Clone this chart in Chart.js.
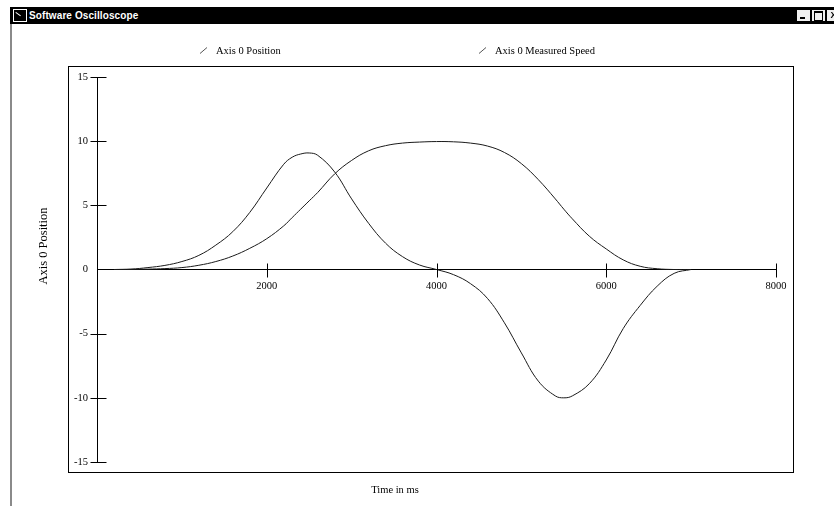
<!DOCTYPE html>
<html>
<head>
<meta charset="utf-8">
<script src="https://cdn.jsdelivr.net/npm/chart.js@4/dist/chart.umd.min.js"></script>
<style>
html,body{margin:0;padding:0;background:#fff;width:834px;height:506px;overflow:hidden;}
#chartBox{position:absolute;left:0;top:0;width:834px;height:506px;}
#titlebar{position:absolute;left:10px;top:7px;width:824px;height:17px;background:#000;z-index:2;}
#icon{position:absolute;left:3px;top:2px;width:12px;height:11px;border:1px solid #fff;background:#000;}
#icon:after{content:"";position:absolute;left:2px;top:2px;width:6px;height:1px;background:#fff;transform:rotate(35deg);transform-origin:0 0;}
#titletext{position:absolute;left:19px;top:0px;color:#fff;font:bold 10px "Liberation Sans",Arial,sans-serif;line-height:17px;letter-spacing:0.1px;}
.btn{position:absolute;top:3px;width:13px;height:11px;background:#f0f0f0;color:#000;font:bold 9px "Liberation Sans",Arial,sans-serif;line-height:11px;text-align:center;overflow:hidden;}
#leftBorder{position:absolute;left:10px;top:24px;width:2px;height:482px;background:#8a8a8a;z-index:2;}
</style>
</head>
<body>
<div id="chartBox"><canvas id="c"></canvas></div>
<div id="titlebar">
  <div id="icon"></div>
  <div id="titletext">Software Oscilloscope</div>
  <div class="btn" style="left:787px;"><div style="position:absolute;left:3px;top:7px;width:5px;height:2px;background:#000;"></div></div>
  <div class="btn" style="left:802px;"><div style="position:absolute;left:2px;top:1px;width:7px;height:7px;border:1px solid #000;border-top-width:2px;"></div></div>
  <div class="btn" style="left:817px;">X</div>
</div>
<div id="leftBorder"></div>
<script>
// ---- data ----
const seriesNames = ['Axis 0 Position', 'Axis 0 Measured Speed'];
const timeMs = [200,400,600,800,1000,1200,1400,1600,1800,2000,2200,2300,2400,2500,2600,2800,3000,3200,3400,3600,3800,4000,4200,4400,4600,4800,5000,5200,5400,5500,5600,5800,6000,6200,6400,6600,6800,7000];
const position = [0,0.01,0.03,0.07,0.15,0.33,0.62,1.05,1.65,2.4,3.4,4.05,4.7,5.35,6.0,7.45,8.5,9.25,9.65,9.85,9.93,9.97,9.95,9.85,9.62,9.12,8.25,7.0,5.5,4.7,3.95,2.6,1.6,0.75,0.25,0.06,0,0];
const speed = [0,0.03,0.15,0.32,0.62,1.1,1.9,2.95,4.45,6.35,8.2,8.75,9.0,9.08,8.9,7.6,5.5,3.6,2.05,1.0,0.35,0,-0.4,-1.1,-2.25,-4.15,-6.5,-8.7,-9.85,-10.0,-9.85,-8.9,-7.05,-4.6,-2.8,-1.3,-0.3,0];
const xTicks = [0,2000,4000,6000,8000];
const yTicks = [-15,-10,-5,0,5,10,15];
const xTitle = 'Time in ms';
const yTitle = 'Axis 0 Position';

const FONT = '"Liberation Serif","Times New Roman",serif';

const decor = {
  id: 'decor',
  afterDraw(chart) {
    const {ctx, chartArea: a, scales: {x, y}} = chart;
    ctx.save();
    ctx.strokeStyle = '#000';
    ctx.lineWidth = 1;
    // outer plot frame
    ctx.strokeRect(Math.round(a.left - 29) + 0.5, Math.round(a.top - 11) + 0.5,
                   Math.round(a.right - a.left + 46), Math.round(a.bottom - a.top + 21));
    const x0 = Math.round(x.getPixelForValue(0)) + 0.5;
    const y0 = Math.round(y.getPixelForValue(0)) + 0.5;
    ctx.beginPath();
    yTicks.forEach(v => {
      if (v === 0) return;
      const py = Math.round(y.getPixelForValue(v)) + 0.5;
      ctx.moveTo(x0 - 7, py); ctx.lineTo(x0 + 9, py);
    });
    xTicks.forEach(v => {
      if (v === 0) return;
      const px = Math.round(x.getPixelForValue(v)) + 0.5;
      ctx.moveTo(px, y0 - 7); ctx.lineTo(px, y0 + 7);
    });
    ctx.stroke();

    // legend
    ctx.fillStyle = '#000';
    ctx.font = '10.5px ' + FONT;
    ctx.textBaseline = 'alphabetic';
    ctx.textAlign = 'left';
    const legendX = [200, 479];
    chart.data.datasets.forEach((ds, i) => {
      const lx = legendX[i];
      ctx.strokeStyle = '#555';
      ctx.beginPath();
      ctx.moveTo(lx, 53.5); ctx.lineTo(lx + 7, 47.5);
      ctx.stroke();
      ctx.fillText(ds.label, lx + 16, 53.5);
    });

    // axis titles
    ctx.font = '10.5px ' + FONT;
    ctx.textAlign = 'center';
    ctx.fillText(xTitle, 395, 492.5);
    ctx.save();
    ctx.translate(47, 246);
    ctx.rotate(-Math.PI / 2);
    ctx.font = '12.5px ' + FONT;
    ctx.fillText(yTitle, 0, 0);
    ctx.restore();
    ctx.restore();
  }
};

new Chart(document.getElementById('c'), {
  type: 'line',
  data: {
    datasets: [
      { label: seriesNames[0], data: timeMs.map((t, i) => ({x: t, y: position[i]})) },
      { label: seriesNames[1], data: timeMs.map((t, i) => ({x: t, y: speed[i]})) }
    ].map(d => Object.assign(d, {
      borderColor: '#1a1a1a', borderWidth: 1, pointRadius: 0, fill: false,
      tension: 0.4
    }))
  },
  options: {
    responsive: true,
    maintainAspectRatio: false,
    animation: false,
    events: [],
    layout: { padding: { left: 0, right: 58, top: 77, bottom: 44 } },
    plugins: { legend: { display: false }, tooltip: { enabled: false } },
    scales: {
      x: {
        type: 'linear',
        position: { y: 0 },
        min: xTicks[0], max: xTicks[xTicks.length - 1],
        afterBuildTicks: s => { s.ticks = xTicks.map(v => ({value: v})); },
        grid: { display: false, drawTicks: false },
        border: { display: true, color: '#000', width: 1 },
        ticks: {
          color: '#000', font: { family: FONT, size: 10.5 }, padding: 10,
          maxRotation: 0, autoSkip: false,
          callback: v => (v === 0 ? '' : String(v))
        }
      },
      y: {
        type: 'linear',
        position: 'left',
        min: yTicks[0], max: yTicks[yTicks.length - 1],
        afterBuildTicks: s => { s.ticks = yTicks.map(v => ({value: v})); },
        afterFit: s => { s.width = 97; },
        grid: { display: false, drawTicks: false },
        border: { display: true, color: '#000', width: 1 },
        ticks: {
          color: '#000', font: { family: FONT, size: 10.5 }, padding: 9,
          autoSkip: false, callback: v => String(v)
        }
      }
    }
  },
  plugins: [decor]
});
</script>
</body>
</html>
